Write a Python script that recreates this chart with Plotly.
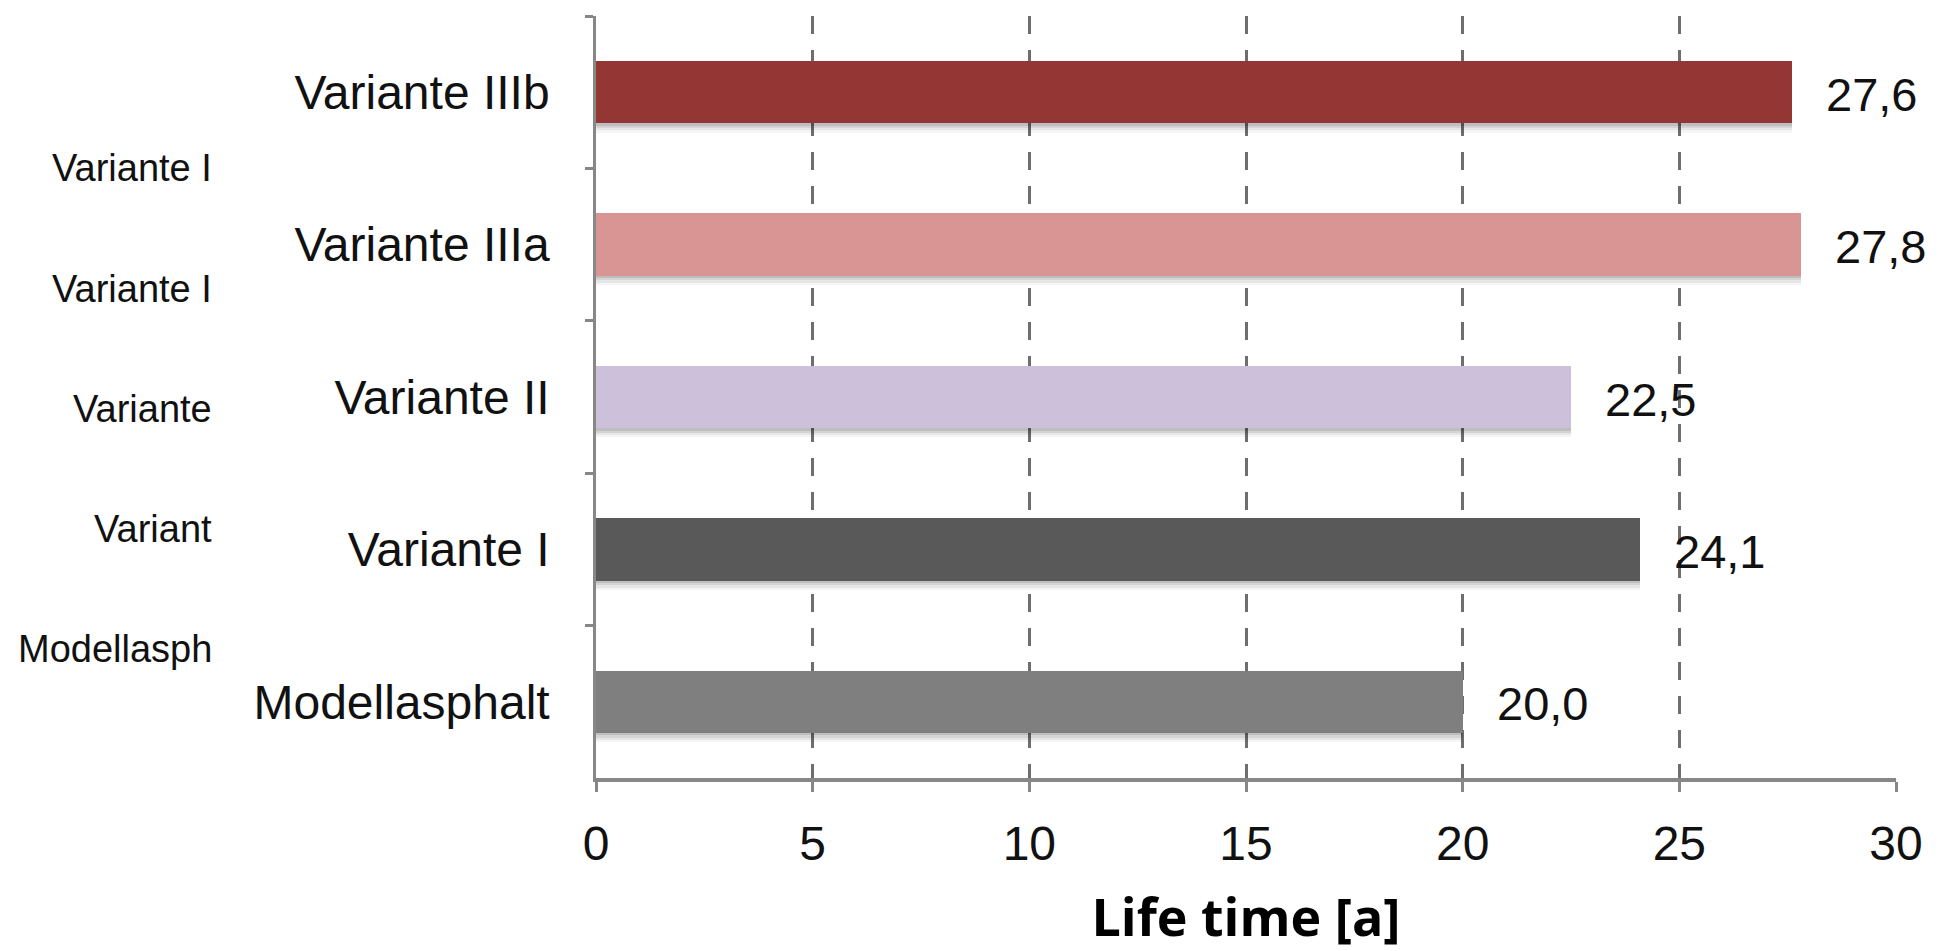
import plotly.graph_objects as go

categories = ["Variante IIIb", "Variante IIIa", "Variante II", "Variante I", "Modellasphalt"]
values = [27.6, 27.8, 22.5, 24.1, 20.0]
value_labels = ["27,6", "27,8", "22,5", "24,1", "20,0"]
colors = ["#943634", "#D99594", "#CCC0DA", "#595959", "#7F7F7F"]
ghost_labels = ["Variante I", "Variante I", "Variante", "Variant", "Modellasph"]
x_ticks = [0, 5, 10, 15, 20, 25, 30]
x_title = "Life time [a]"

# page body has an 8px default margin, so the figure is slightly smaller than the window
W, H = 1935, 943
ML, MR, MT, MB = 588, 47, 8, 173
bar_w = 0.41
axis_col = "#878787"
txt_font = "Liberation Sans, Arial, sans-serif"

fig = go.Figure()

# soft drop shadow under bars
for k, op in enumerate([0.10, 0.08, 0.06, 0.04]):
    fig.add_trace(go.Bar(
        x=values, y=categories, orientation="h",
        width=bar_w, offset=-bar_w / 2 + 0.015 * (k + 1),
        marker=dict(color=f"rgba(0,0,0,{op})", line=dict(width=0)),
        hoverinfo="skip", showlegend=False,
    ))

fig.add_trace(go.Bar(
    x=values, y=categories, orientation="h",
    width=bar_w, offset=-bar_w / 2,
    marker=dict(color=colors, line=dict(width=0)),
    showlegend=False,
))

for v, c, t in zip(values, categories, value_labels):
    fig.add_annotation(
        x=v, y=c, xref="x", yref="y", text=t, showarrow=False,
        xanchor="left", yanchor="middle", xshift=32, yshift=-2,
        font=dict(family=txt_font, size=47, color="#111111"),
    )

plot_w = W - ML - MR
for i, g in enumerate(ghost_labels):
    fig.add_annotation(
        x=-(ML - 206) / plot_w, y=0.80 - i * 0.1577, xref="paper", yref="paper",
        text=g, showarrow=False, xanchor="right", yanchor="middle",
        font=dict(family=txt_font, size=38, color="#111111"),
    )

fig.update_layout(
    template="none",
    width=W, height=H,
    margin=dict(l=ML, r=MR, t=MT, b=MB),
    paper_bgcolor="white", plot_bgcolor="white",
    barmode="overlay", bargap=0,
    xaxis=dict(
        automargin=False,
        range=[0, 30], tickvals=x_ticks, ticktext=[str(t) for t in x_ticks],
        showgrid=True, gridcolor="#6e6e6e", gridwidth=2.5, griddash="18px,16px",
        zeroline=False, showline=True, linecolor=axis_col, linewidth=3.5,
        ticks="outside", ticklen=10, tickwidth=2.5, tickcolor=axis_col,
        ticklabelstandoff=11,
        tickfont=dict(family=txt_font, size=48, color="#111111"),
        title=dict(text=x_title, standoff=34,
                   font=dict(family="Open Sans, sans-serif", size=52, color="#000000", weight="bold")),
        fixedrange=True,
    ),
    yaxis=dict(
        automargin=False,
        categoryorder="array", categoryarray=categories, autorange="reversed",
        showgrid=False, zeroline=False, showline=True, linecolor=axis_col, linewidth=2.5,
        ticks="outside", tickson="boundaries", ticklen=8, tickwidth=2.5, tickcolor=axis_col,
        ticklabelstandoff=34,
        tickfont=dict(family=txt_font, size=48, color="#111111"),
        fixedrange=True,
    ),
)

fig.write_html("out.html")
